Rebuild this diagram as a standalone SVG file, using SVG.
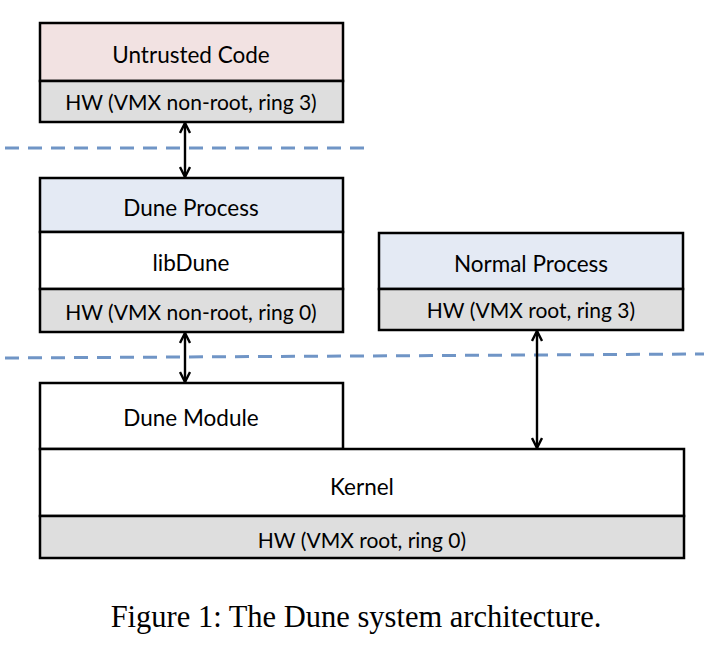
<svg xmlns="http://www.w3.org/2000/svg" width="704" height="650" viewBox="0 0 704 650">
<defs>
<marker id="ah" viewBox="0 0 12 12" refX="11" refY="6" markerWidth="12" markerHeight="12" markerUnits="userSpaceOnUse" orient="auto-start-reverse">
<path d="M1,1 L11,6 L1,11" fill="none" stroke="#000" stroke-width="2.4"/>
</marker>
</defs>
<style>
.box{stroke:#000;stroke-width:2.5}
.pink{fill:#f2e2e2}
.blue{fill:#e4eaf4}
.gray{fill:#dedede}
.white{fill:#fff}
.t{font-family:Lato,"Open Sans",sans-serif;font-size:22.5px;fill:#000;text-anchor:middle}
.h{font-size:21px}
.dash{stroke:#7095c6;stroke-width:3;stroke-dasharray:14,9;fill:none}
.arr{stroke:#000;stroke-width:2.4;fill:none;marker-start:url(#ah);marker-end:url(#ah)}
</style>
<rect width="704" height="650" fill="#fff"/>
<g id="untrusted">
<rect class="box pink" x="40" y="23" width="303" height="58"/>
<text class="t" x="191" y="63">Untrusted Code</text>
<rect class="box gray" x="40" y="81" width="303" height="41"/>
<text class="t h" x="191" y="110">HW (VMX non-root, ring 3)</text>
</g>
<g id="dune-process">
<rect class="box blue" x="40" y="178" width="303" height="54"/>
<text class="t" x="191" y="216">Dune Process</text>
<rect class="box white" x="40" y="232" width="303" height="57"/>
<text class="t" x="191" y="271">libDune</text>
<rect class="box gray" x="40" y="289" width="303" height="43"/>
<text class="t h" x="191" y="320">HW (VMX non-root, ring 0)</text>
</g>
<g id="normal-process">
<rect class="box blue" x="379" y="233" width="304" height="56"/>
<text class="t" x="531" y="272">Normal Process</text>
<rect class="box gray" x="379" y="289" width="304" height="41"/>
<text class="t h" x="531" y="318">HW (VMX root, ring 3)</text>
</g>
<g id="kernel">
<rect class="box white" x="40" y="383" width="303" height="66"/>
<text class="t" x="191" y="426">Dune Module</text>
<rect class="box white" x="40" y="449" width="644" height="67"/>
<text class="t" x="362" y="495">Kernel</text>
<rect class="box gray" x="40" y="516" width="644" height="42"/>
<text class="t h" x="362" y="548">HW (VMX root, ring 0)</text>
</g>
<g id="connectors">
<line class="dash" x1="5" y1="148" x2="368" y2="148"/>
<line class="dash" x1="5" y1="358" x2="704" y2="354"/>
<line class="arr" x1="185" y1="123" x2="185" y2="177"/>
<line class="arr" x1="185" y1="333" x2="185" y2="382"/>
<line class="arr" x1="537" y1="331" x2="537" y2="448"/>
</g>
<text x="356" y="627" font-family="'Liberation Serif',serif" font-size="30.5" text-anchor="middle">Figure 1: The Dune system architecture.</text>
</svg>
